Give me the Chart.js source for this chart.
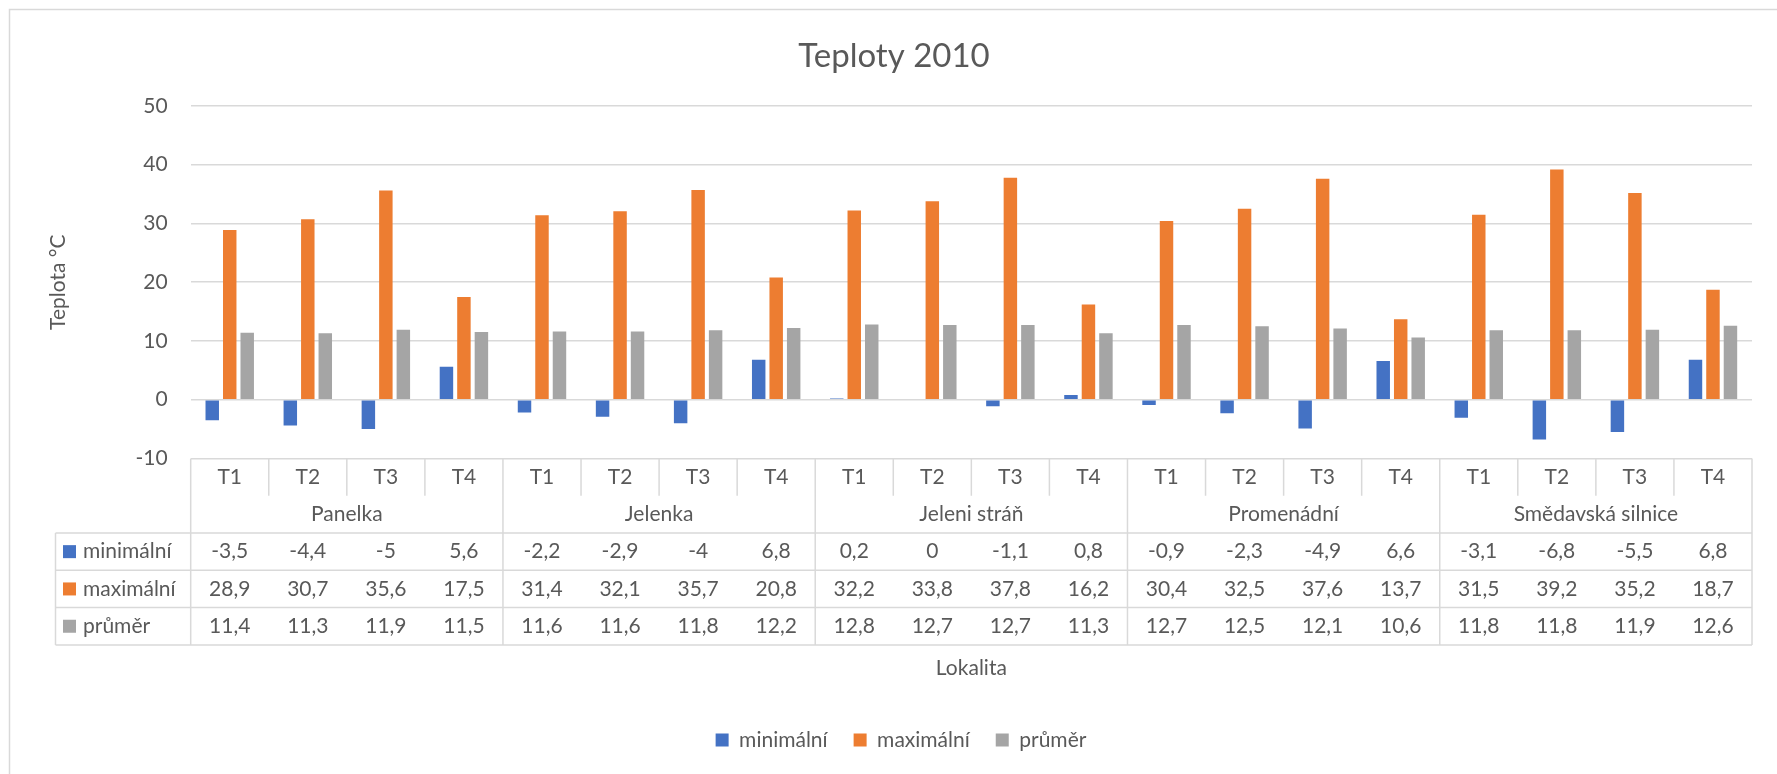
<!DOCTYPE html>
<html>
<head>
<meta charset="utf-8">
<title>Teploty 2010</title>
<script src="https://cdn.jsdelivr.net/npm/chart.js@4.4.1/dist/chart.umd.min.js"></script>
<style>
  html, body { margin: 0; padding: 0; background: #fff; }
  canvas { display: block; }
</style>
</head>
<body>
<canvas id="tempChart" width="1777" height="774"></canvas>
<script>
// Data straight from the chart's data table
const stations = ['Panelka', 'Jelenka', 'Jeleni stráň', 'Promenádní', 'Smědavská silnice'];
const points = ['T1', 'T2', 'T3', 'T4'];
const minTemps = [-3.5, -4.4, -5, 5.6, -2.2, -2.9, -4, 6.8, 0.2, 0, -1.1, 0.8, -0.9, -2.3, -4.9, 6.6, -3.1, -6.8, -5.5, 6.8];
const maxTemps = [28.9, 30.7, 35.6, 17.5, 31.4, 32.1, 35.7, 20.8, 32.2, 33.8, 37.8, 16.2, 30.4, 32.5, 37.6, 13.7, 31.5, 39.2, 35.2, 18.7];
const avgTemps = [11.4, 11.3, 11.9, 11.5, 11.6, 11.6, 11.8, 12.2, 12.8, 12.7, 12.7, 11.3, 12.7, 12.5, 12.1, 10.6, 11.8, 11.8, 11.9, 12.6];
const seriesNames = ['minimální', 'maximální', 'průměr'];
const seriesColors = ['#4472C4', '#ED7D31', '#A5A5A5'];
const yTicks = [-10, 0, 10, 20, 30, 40, 50];

const textColor = '#595959';
const lineColor = '#d9d9d9';
const fontFamily = 'Lato, "Noto Sans", sans-serif';
const fontSize = 21;

const labels = stations.flatMap(() => points);
const seriesValues = [minTemps, maxTemps, avgTemps];

// Czech number format: decimal comma
function fmt(v) {
  return String(v).replace('.', ',');
}

// Light frame around the whole chart (only top/left edges are visible)
const framePlugin = {
  id: 'frame',
  beforeDraw(chart) {
    const ctx = chart.ctx;
    ctx.save();
    ctx.fillStyle = '#fff';
    ctx.fillRect(0, 0, chart.width, chart.height);
    ctx.strokeStyle = lineColor;
    ctx.lineWidth = 1.5;
    ctx.beginPath();
    ctx.moveTo(9.5, chart.height);
    ctx.lineTo(9.5, 9.5);
    ctx.lineTo(chart.width, 9.5);
    ctx.stroke();
    ctx.restore();
  }
};

// Excel centres title and legend on the whole chart, a bit right of ours
const nudgePlugin = {
  id: 'nudge',
  afterLayout(chart) {
    if (chart.titleBlock) {
      chart.titleBlock.left += 18;
      chart.titleBlock.right += 18;
    }
    if (chart.legend) {
      chart.legend.left += 25;
      chart.legend.right += 25;
    }
  }
};

// Excel-style data table under the plot, aligned to the x scale
const dataTable = {
  id: 'dataTable',
  afterDraw(chart) {
    const { ctx, chartArea } = chart;
    const x = chart.scales.x;
    const top = chartArea.bottom;
    const rowH = 37.3;
    const bottom = top + rowH * 5;
    const tableLeft = 55.5;
    const n = labels.length;

    const edge = i => {
      if (i === 0) return chartArea.left;
      if (i === n) return chartArea.right;
      return (x.getPixelForValue(i - 1) + x.getPixelForValue(i)) / 2;
    };

    ctx.save();
    ctx.strokeStyle = lineColor;
    ctx.lineWidth = 1.5;
    ctx.beginPath();
    for (let i = 0; i <= n; i++) {
      const xx = edge(i);
      ctx.moveTo(xx, top);
      ctx.lineTo(xx, i % points.length === 0 ? bottom : top + rowH);
    }
    ctx.moveTo(tableLeft, top + 2 * rowH);
    ctx.lineTo(tableLeft, bottom);
    for (let r = 2; r <= 5; r++) {
      const yy = top + r * rowH;
      ctx.moveTo(tableLeft, yy);
      ctx.lineTo(chartArea.right, yy);
    }
    ctx.stroke();

    ctx.fillStyle = textColor;
    ctx.font = fontSize + 'px ' + fontFamily;
    ctx.textAlign = 'center';
    ctx.textBaseline = 'middle';

    // T1..T4 row
    labels.forEach((lab, i) => {
      ctx.fillText(lab, x.getPixelForValue(i), top + rowH / 2);
    });
    // station names
    stations.forEach((s, g) => {
      const cx = (edge(g * points.length) + edge((g + 1) * points.length)) / 2;
      ctx.fillText(s, cx, top + rowH * 1.5);
    });
    // series rows
    seriesValues.forEach((vals, r) => {
      const cy = top + rowH * (2.5 + r);
      vals.forEach((v, i) => {
        ctx.fillText(fmt(v), x.getPixelForValue(i), cy);
      });
      ctx.fillStyle = seriesColors[r];
      ctx.fillRect(63, cy - 6.5, 13, 13);
      ctx.fillStyle = textColor;
      ctx.textAlign = 'left';
      ctx.fillText(seriesNames[r], 83, cy);
      ctx.textAlign = 'center';
    });
    ctx.restore();
  }
};

const ctx = document.getElementById('tempChart').getContext('2d');

new Chart(ctx, {
  type: 'bar',
  data: {
    labels: labels,
    datasets: seriesValues.map((vals, k) => ({
      label: seriesNames[k],
      data: vals,
      backgroundColor: seriesColors[k],
      borderWidth: 0,
      categoryPercentage: 0.672,
      barPercentage: 0.77
    }))
  },
  options: {
    responsive: false,
    animation: false,
    layout: {
      padding: { top: 0, left: 0, right: 25, bottom: 13.5 }
    },
    plugins: {
      title: {
        display: true,
        text: 'Teploty 2010',
        color: textColor,
        font: { family: fontFamily, size: 33, weight: 'normal' },
        padding: { top: 36.2, bottom: 30.2 }
      },
      legend: {
        position: 'bottom',
        labels: {
          color: textColor,
          font: { family: fontFamily, size: fontSize },
          boxWidth: 13,
          boxHeight: 13,
          padding: 26
        }
      },
      tooltip: { enabled: false }
    },
    scales: {
      x: {
        ticks: { display: false },
        grid: { display: false },
        border: { display: false },
        title: {
          display: true,
          text: 'Lokalita',
          color: textColor,
          font: { family: fontFamily, size: fontSize },
          padding: { top: 0, bottom: 22.9 }
        },
        afterFit(scale) {
          scale.height = 245.1;
        }
      },
      y: {
        min: -10,
        max: 50,
        afterBuildTicks(scale) {
          scale.ticks = yTicks.map(v => ({ value: v }));
        },
        ticks: {
          color: textColor,
          font: { family: fontFamily, size: fontSize },
          padding: 23
        },
        grid: {
          color: lineColor,
          lineWidth: 1.5,
          drawTicks: false
        },
        border: { display: false },
        title: {
          display: true,
          text: 'Teplota °C',
          color: textColor,
          font: { family: fontFamily, size: fontSize },
          padding: { top: 46, bottom: 0 }
        },
        afterFit(scale) {
          scale.width = 190.7;
        }
      }
    }
  },
  plugins: [framePlugin, nudgePlugin, dataTable]
});
</script>
</body>
</html>
